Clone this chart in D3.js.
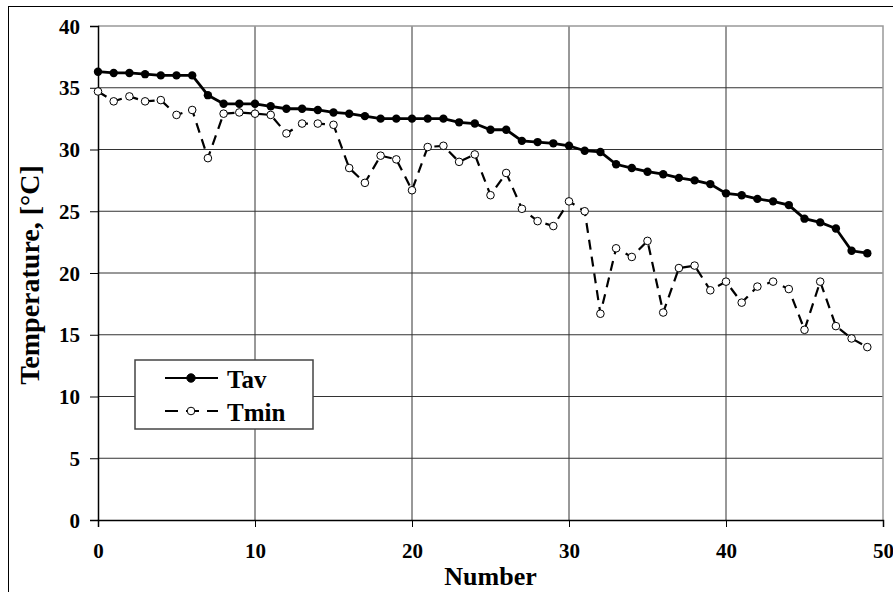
<!DOCTYPE html>
<html>
<head>
<meta charset="utf-8">
<script src="https://cdn.jsdelivr.net/npm/d3@7"></script>
<style>
  body { margin: 0; background: #fff; }
  text { font-family: "Liberation Serif", "Times New Roman", serif; font-weight: bold; }
</style>
</head>
<body>
<script>
const width = 893, height = 592;
const margin = {top: 26, right: 10, bottom: 72, left: 98};

const numbers = d3.range(0, 50);
const tav = [36.3, 36.2, 36.2, 36.1, 36.0, 36.0, 36.0, 34.4, 33.7, 33.7,
             33.7, 33.5, 33.3, 33.3, 33.2, 33.0, 32.9, 32.7, 32.5, 32.5,
             32.5, 32.5, 32.5, 32.2, 32.1, 31.6, 31.6, 30.7, 30.6, 30.5,
             30.3, 29.9, 29.8, 28.8, 28.5, 28.2, 28.0, 27.7, 27.5, 27.2,
             26.45, 26.3, 26.0, 25.8, 25.5, 24.4, 24.1, 23.6, 21.8, 21.6];
const tmin = [34.7, 33.9, 34.3, 33.9, 34.0, 32.8, 33.2, 29.3, 32.9, 33.0,
              32.9, 32.8, 31.3, 32.1, 32.1, 32.0, 28.5, 27.3, 29.5, 29.2,
              26.7, 30.2, 30.3, 29.0, 29.6, 26.3, 28.1, 25.2, 24.2, 23.8,
              25.8, 25.0, 16.7, 22.0, 21.3, 22.6, 16.8, 20.4, 20.6, 18.6,
              19.3, 17.6, 18.9, 19.3, 18.7, 15.4, 19.3, 15.7, 14.7, 14.0];
const xTicks = [0, 10, 20, 30, 40, 50];
const yTicks = [0, 5, 10, 15, 20, 25, 30, 35, 40];

const svg = d3.select("body").append("svg")
  .attr("width", width)
  .attr("height", height);

// outer frame
svg.append("rect")
  .attr("x", 8.5).attr("y", 6.5)
  .attr("width", 900).attr("height", 600)
  .attr("fill", "none").attr("stroke", "#000").attr("stroke-width", 1);

const x = d3.scaleLinear().domain([0, 50]).range([margin.left, width - margin.right]);
const y = d3.scaleLinear().domain([0, 40]).range([height - margin.bottom, margin.top]);

// grid
svg.append("g").selectAll("line")
  .data(yTicks.filter(d => d > 0 && d < 40))
  .enter().append("line")
  .attr("x1", x(0)).attr("x2", x(50))
  .attr("y1", d => y(d)).attr("y2", d => y(d))
  .attr("stroke", "#333").attr("stroke-width", 1);

svg.append("g").selectAll("line")
  .data(xTicks.filter(d => d > 0 && d < 50))
  .enter().append("line")
  .attr("x1", d => x(d)).attr("x2", d => x(d))
  .attr("y1", y(0)).attr("y2", y(40))
  .attr("stroke", "#333").attr("stroke-width", 1);

// plot border top/right
svg.append("path")
  .attr("d", `M${x(0)},${y(40)}H${x(50)}V${y(0)}`)
  .attr("fill", "none").attr("stroke", "#999").attr("stroke-width", 1.5);

// axes
const yAxis = svg.append("g")
  .attr("transform", `translate(${x(0)},0)`)
  .call(d3.axisLeft(y).tickValues(yTicks).tickSize(8).tickPadding(10));
const xAxis = svg.append("g")
  .attr("transform", `translate(0,${y(0)})`)
  .call(d3.axisBottom(x).tickValues(xTicks).tickSize(7).tickPadding(12));

[xAxis, yAxis].forEach(a => {
  a.attr("font-family", null).attr("font-size", null);
  a.select(".domain").attr("stroke", "#000").attr("stroke-width", 1.5);
  a.selectAll(".tick line").attr("stroke", "#000").attr("stroke-width", 1);
  a.selectAll(".tick text")
    .attr("fill", "#000")
    .style("font-size", "21px");
});
xAxis.selectAll(".tick text").attr("dy", "0.9em");
yAxis.selectAll(".tick text").attr("dy", "0.34em");

// titles
svg.append("text")
  .attr("transform", `translate(39,${(y(0) + y(40)) / 2 + 2}) rotate(-90)`)
  .attr("text-anchor", "middle")
  .style("font-size", "28px")
  .text("Temperature, [°C]");

svg.append("text")
  .attr("x", (x(0) + x(50)) / 2)
  .attr("y", 585)
  .attr("text-anchor", "middle")
  .style("font-size", "26px")
  .text("Number");

// series
const line = vals => d3.line().x((d, i) => x(numbers[i])).y(d => y(d))(vals);

svg.append("path")
  .attr("d", line(tmin))
  .attr("fill", "none").attr("stroke", "#000")
  .attr("stroke-width", 2.2).attr("stroke-dasharray", "10,7");

svg.append("path")
  .attr("d", line(tav))
  .attr("fill", "none").attr("stroke", "#000").attr("stroke-width", 2.8);

svg.append("g").selectAll("circle")
  .data(tav).enter().append("circle")
  .attr("cx", (d, i) => x(numbers[i])).attr("cy", d => y(d))
  .attr("r", 4.2).attr("fill", "#000");

svg.append("g").selectAll("circle")
  .data(tmin).enter().append("circle")
  .attr("cx", (d, i) => x(numbers[i])).attr("cy", d => y(d))
  .attr("r", 3.8).attr("fill", "#fff").attr("stroke", "#000").attr("stroke-width", 1);

// legend
const legend = svg.append("g").attr("transform", "translate(135,360)");
legend.append("rect")
  .attr("width", 178).attr("height", 69)
  .attr("fill", "#fff").attr("stroke", "#444").attr("stroke-width", 1.5);

const items = [
  {name: "Tav", fill: "#000", dash: null, r: 4.2},
  {name: "Tmin", fill: "#fff", dash: "13,8", r: 3.8}
];
items.forEach((it, i) => {
  const cy = 18 + i * 33;
  legend.append("line")
    .attr("x1", 30).attr("x2", 83).attr("y1", cy).attr("y2", cy)
    .attr("stroke", "#000").attr("stroke-width", 2.2)
    .attr("stroke-dasharray", it.dash);
  legend.append("circle")
    .attr("cx", 56).attr("cy", cy).attr("r", it.r)
    .attr("fill", it.fill).attr("stroke", "#000").attr("stroke-width", 1);
  legend.append("text")
    .attr("x", 92).attr("y", cy + 10)
    .style("font-size", "25px")
    .text(it.name);
});
</script>
</body>
</html>
